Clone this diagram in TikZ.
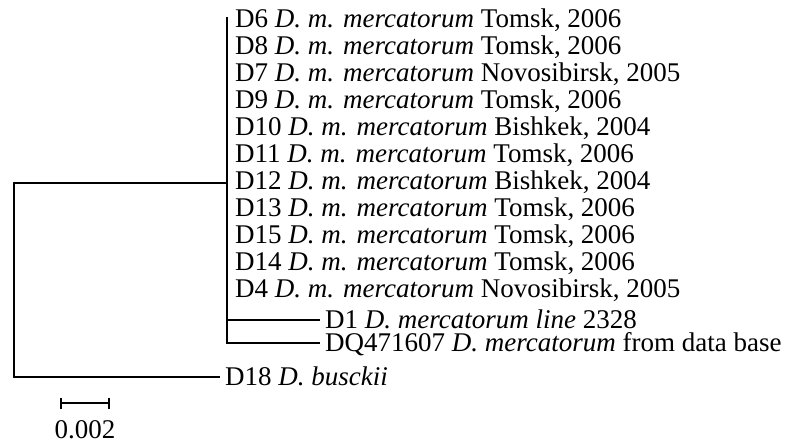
\documentclass[tikz,border=0pt]{standalone}
\usepackage{fontspec}
\setmainfont{Liberation Serif}
\usetikzlibrary{arrows.meta}
\begin{document}
\begin{tikzpicture}[x=1pt,y=-1pt,line width=2.3pt,
  leaf/.style={anchor=west,inner xsep=4pt,inner ysep=0pt,text height=17.8pt,text depth=0pt,
    font=\fontsize{27pt}{27pt}\selectfont},
  branch/.style={line width=2.3pt}]
\useasboundingbox (0,0) rectangle (785,445);
% tree junctions
\coordinate (r1) at (14,183);
\coordinate (r2) at (14,377);
\coordinate (c) at (227,183);
\coordinate (ctop) at (227,17);
\coordinate (c1) at (227,320);
\coordinate (cbot) at (227,343);
% polytomy leaves
\node[leaf] (d6)  at (230,19)  {D6 \textit{D. m. mercatorum} Tomsk, 2006};
\node[leaf] (d8)  at (230,46)  {D8 \textit{D. m. mercatorum} Tomsk, 2006};
\node[leaf] (d7)  at (230,73)  {D7 \textit{D. m. mercatorum} Novosibirsk, 2005};
\node[leaf] (d9)  at (230,100) {D9 \textit{D. m. mercatorum} Tomsk, 2006};
\node[leaf] (d10) at (230,127) {D10 \textit{D. m. mercatorum} Bishkek, 2004};
\node[leaf] (d11) at (230,154) {D11 \textit{D. m. mercatorum} Tomsk, 2006};
\node[leaf] (d12) at (230,181) {D12 \textit{D. m. mercatorum} Bishkek, 2004};
\node[leaf] (d13) at (230,208) {D13 \textit{D. m. mercatorum} Tomsk, 2006};
\node[leaf] (d15) at (230,235) {D15 \textit{D. m. mercatorum} Tomsk, 2006};
\node[leaf] (d14) at (230,262) {D14 \textit{D. m. mercatorum} Tomsk, 2006};
\node[leaf] (d4)  at (230,289) {D4 \textit{D. m. mercatorum} Novosibirsk, 2005};
% other leaves
\node[leaf] (d1)  at (320,320) {D1 \textit{D. mercatorum line} 2328};
\node[leaf] (dq)  at (320,343) {DQ471607 \textit{D. mercatorum} from data base};
\node[leaf] (d18) at (220,377) {D18 \textit{D. busckii}};
% branches
\draw[branch] (c) -- (r1) -- (r2) -- (d18.west);
\draw[branch] (ctop) -- (cbot) -- (dq.west);
\draw[branch] (c1) -- (d1.west);
% scale bar
\coordinate (s1) at (60,403);
\coordinate (s2) at (110,403);
\draw[line width=2pt,{Bar[width=11pt]}-{Bar[width=11pt]}] (s1) -- (s2);
\node[leaf,anchor=center,inner xsep=0pt] (sc) at (85,430) {0.002};
\end{tikzpicture}
\end{document}
